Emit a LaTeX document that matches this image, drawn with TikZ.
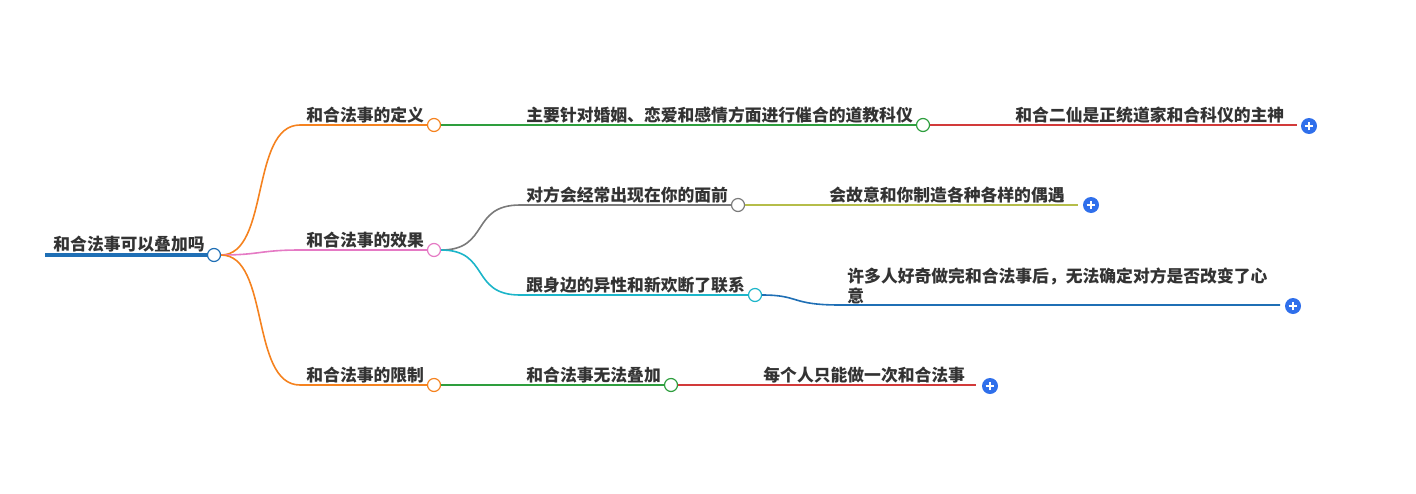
\documentclass[tikz,border=0pt]{standalone}
\usepackage{fontspec}
\setmainfont{Noto Sans CJK SC}
\definecolor{cOrange}{HTML}{F5821F}
\definecolor{cPink}{HTML}{E57AC4}
\definecolor{cGreen}{HTML}{2E9E3E}
\definecolor{cRed}{HTML}{D23A3A}
\definecolor{cGray}{HTML}{7A7A7A}
\definecolor{cOlive}{HTML}{B5BD4A}
\definecolor{cCyan}{HTML}{1CB5C9}
\definecolor{cBlue}{HTML}{1F6FB5}
\definecolor{cPlus}{HTML}{2F6FEB}
\tikzset{
  lbl/.style={anchor=south west,inner sep=1.5pt,font=\fontsize{8.4}{10}\selectfont\bfseries,text=black!80},
  knob/.style={circle,draw=#1,fill=white,line width=0.6pt,minimum size=6.5pt,inner sep=0pt},
  plusbtn/.style={circle,fill=cPlus,minimum size=8pt,inner sep=0pt,
    path picture={\draw[white,line width=0.6pt] (path picture bounding box.center) ++(-2.2pt,0) -- ++(4.4pt,0)
      (path picture bounding box.center) ++(0,-2.2pt) -- ++(0,4.4pt);}},
  br/.style={draw=#1,line width=0.8pt}
}
\begin{document}
\begin{tikzpicture}[x=0.5pt,y=-0.5pt]
\useasboundingbox (0,0) rectangle (1416,493);
% root
\node[lbl] (root) at (50,256) {和合法事可以叠加吗};
\draw[cBlue,line width=2pt] (45,255) -- (208,255);
\node[knob=cBlue] (k0) at (214,255) {};
% level 1
\node[lbl] (def) at (303,127) {和合法事的定义};
\node[lbl] (eff) at (303,252) {和合法事的效果};
\node[lbl] (lim) at (303,387) {和合法事的限制};
\node[knob=cOrange] (k1) at (434,125) {};
\node[knob=cPink] (k2) at (434,250) {};
\node[knob=cOrange] (k3) at (434,385) {};
\draw[br=cOrange] (k0.east) .. controls (270,255) and (250,125) .. (300,125) -- (k1.west);
\draw[br=cPink] (k0.east) .. controls (260,255) and (260,250) .. (300,250) -- (k2.west);
\draw[br=cOrange] (k0.east) .. controls (270,255) and (250,385) .. (300,385) -- (k3.west);
% level 2
\node[lbl] (sci) at (523,127) {主要针对婚姻、恋爱和感情方面进行催合的道教科仪};
\node[lbl] (meet) at (523,207) {对方会经常出现在你的面前};
\node[lbl] (cut) at (523,297) {跟身边的异性和新欢断了联系};
\node[lbl] (once) at (523,387) {和合法事无法叠加};
\node[knob=cGreen] (k4) at (923,125) {};
\node[knob=cGray] (k5) at (738,205) {};
\node[knob=cCyan] (k6) at (755,295) {};
\node[knob=cGreen] (k7) at (671,385) {};
\draw[br=cGreen] (k1.east) -- (k4.west);
\draw[br=cGray] (k2.east) .. controls (490,250) and (470,205) .. (520,205) -- (k5.west);
\draw[br=cCyan] (k2.east) .. controls (490,250) and (470,295) .. (520,295) -- (k6.west);
\draw[br=cGreen] (k3.east) -- (k7.west);
% level 3
\node[lbl] (god) at (1012,127) {和合二仙是正统道家和合科仪的主神};
\node[lbl] (chance) at (826,207) {会故意和你制造各种各样的偶遇};
\node[lbl,align=left] (doubt) at (844,307) {许多人好奇做完和合法事后，无法确定对方是否改变了心\\意};
\node[lbl] (single) at (760,387) {每个人只能做一次和合法事};
\node[plusbtn] (p1) at (1309,126) {};
\node[plusbtn] (p2) at (1091,205) {};
\node[plusbtn] (p3) at (1293,306) {};
\node[plusbtn] (p4) at (990,386) {};
\draw[br=cRed] (k4.east) -- (1297,125);
\draw[br=cOlive] (k5.east) -- (1078,205);
\draw[br=cBlue] (k6.east) .. controls (800,295) and (790,305) .. (840,305) -- (1280,305);
\draw[br=cRed] (k7.east) -- (976,385);
\end{tikzpicture}
\end{document}
